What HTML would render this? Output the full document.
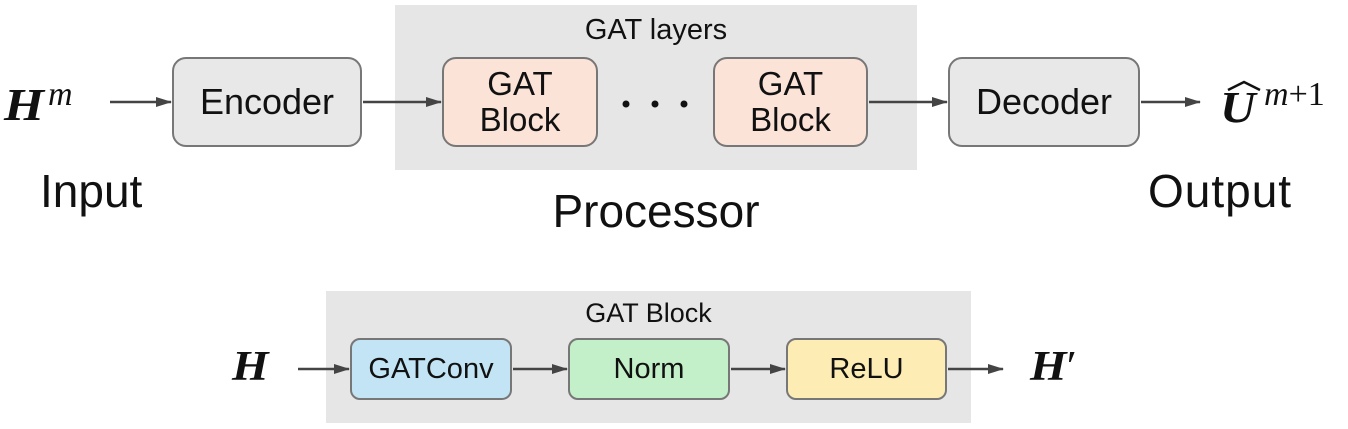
<!DOCTYPE html>
<html><head><style>
body{margin:0;width:1348px;height:429px;background:#fff;position:relative;overflow:hidden;font-family:"Liberation Sans",sans-serif;}
.a{position:absolute;}
.box{position:absolute;box-sizing:border-box;border:2.5px solid #777;border-radius:14px;display:flex;align-items:center;justify-content:center;text-align:center;color:#111;}
.t{position:absolute;color:#111;white-space:nowrap;}
.m{font-family:"Liberation Serif",serif;font-weight:bold;font-style:italic;transform-origin:0 0;transform:scaleX(1.12);}
.sup{font-family:"Liberation Serif",serif;font-weight:normal;font-style:italic;position:absolute;color:#111;white-space:nowrap;}
</style></head><body>
<div class="a" style="left:395px;top:5px;width:522px;height:165px;background:#e6e6e6"></div>
<div class="a" style="left:326px;top:291px;width:645px;height:132px;background:#e6e6e6"></div>
<div class="t" style="left:395px;width:522px;top:14px;text-align:center;font-size:29px">GAT layers</div>
<div class="t" style="left:326px;width:645px;top:298px;text-align:center;font-size:27px">GAT Block</div>

<div class="box" style="left:172px;top:57px;width:190px;height:90px;background:#e8e8e8;font-size:36px">Encoder</div>
<div class="box" style="left:442px;top:57px;width:156px;height:90px;background:#fbe3d8;font-size:33px;line-height:36px">GAT<br>Block</div>
<div class="box" style="left:713px;top:57px;width:155px;height:90px;background:#fbe3d8;font-size:33px;line-height:36px">GAT<br>Block</div>
<div class="box" style="left:948px;top:57px;width:192px;height:90px;background:#e8e8e8;font-size:36px">Decoder</div>

<div class="box" style="left:350px;top:338px;width:162px;height:62px;background:#c3e4f5;font-size:29px;border-radius:10px">GATConv</div>
<div class="box" style="left:568px;top:338px;width:162px;height:62px;background:#c3f0c8;font-size:29px;border-radius:10px">Norm</div>
<div class="box" style="left:786px;top:338px;width:161px;height:62px;background:#fdedb5;font-size:29px;border-radius:10px">ReLU</div>

<svg class="a" style="left:0;top:0" width="1348" height="429">
<defs><marker id="ar" markerWidth="16" markerHeight="10" refX="15" refY="5" orient="auto" markerUnits="userSpaceOnUse"><path d="M0,0L16,5L0,10z" fill="#444"/></marker></defs>
<g stroke="#444" stroke-width="2.5" marker-end="url(#ar)">
<line x1="110" y1="102" x2="171" y2="102"/>
<line x1="363" y1="102" x2="441" y2="102"/>
<line x1="869" y1="102" x2="947" y2="102"/>
<line x1="1141" y1="102" x2="1200" y2="102"/>
<line x1="298" y1="369" x2="349" y2="369"/>
<line x1="513" y1="369" x2="567" y2="369"/>
<line x1="731" y1="369" x2="785" y2="369"/>
<line x1="948" y1="369" x2="1003" y2="369"/>
</g>
<g fill="#111"><circle cx="626" cy="104" r="3.5"/><circle cx="655" cy="104" r="3.5"/><circle cx="684" cy="104" r="3.5"/></g>
<path d="M1228,90 L1244,82 L1260,90" stroke="#111" stroke-width="2.5" fill="none"/>
</svg>

<div class="t m" style="left:4px;top:82px;font-size:46px;line-height:46px">H</div>
<div class="sup" style="left:48px;top:76px;font-size:34px">m</div>
<div class="t m" style="left:1220px;top:86px;font-size:44px;line-height:44px">U</div>
<div class="sup" style="left:1264px;top:76px;font-size:34px">m<span style="font-style:normal">+1</span></div>
<div class="t m" style="left:232px;top:346px;font-size:42px;line-height:42px">H</div>
<div class="t m" style="left:1030px;top:346px;font-size:42px;line-height:42px">H<span style="font-weight:normal;font-style:normal">′</span></div>

<div class="t" style="left:40px;top:164px;font-size:46px">Input</div>
<div class="t" style="left:395px;width:522px;text-align:center;top:184px;font-size:46px">Processor</div>
<div class="t" style="left:1148px;top:164px;font-size:46px;letter-spacing:1px">Output</div>
</body></html>
